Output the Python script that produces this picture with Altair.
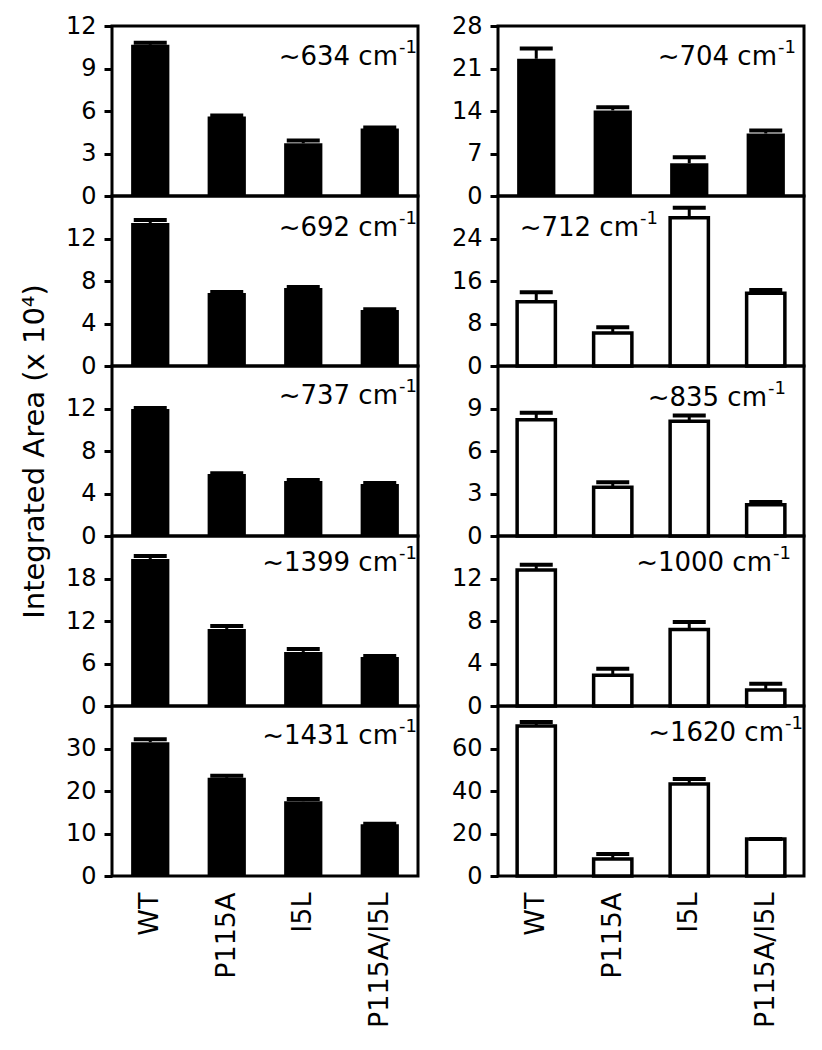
import altair as alt
import pandas as pd

samples = ["WT", "P115A", "I5L", "P115A/I5L"]

# left column (black bars)
v634 = [10.67, 5.61, 3.72, 4.77]
e634 = [0.14, 0.08, 0.2, 0.06]
v692 = [13.46, 6.87, 7.34, 5.27]
e692 = [0.28, 0.1, 0.1, 0.06]
v737 = [11.95, 5.83, 5.18, 4.9]
e737 = [0.1, 0.08, 0.08, 0.08]
v1399 = [20.76, 10.88, 7.63, 6.92]
e1399 = [0.4, 0.4, 0.4, 0.15]
v1431 = [31.5, 23.1, 17.6, 12.2]
e1431 = [0.7, 0.5, 0.5, 0.1]

# right column
v704 = [22.6, 14.1, 5.4, 10.3]
e704 = [1.7, 0.5, 1.0, 0.5]
v712 = [12.1, 6.2, 27.9, 13.7]
e712 = [1.8, 1.1, 1.9, 0.6]
v835 = [8.2, 3.45, 8.1, 2.2]
e835 = [0.5, 0.35, 0.4, 0.2]
v1000 = [12.8, 2.9, 7.2, 1.5]
e1000 = [0.5, 0.6, 0.7, 0.6]
v1620 = [70.6, 8.0, 43.3, 17.4]
e1620 = [1.9, 2.4, 2.3, 0.0]

FONT = "DejaVu Sans"
W = 306
H = 170


def panel(vals, errs, dmax, ticks, wn, fill, ann_end, ann_base, bottom=False, title=None):
    df = pd.DataFrame({
        "sample": samples,
        "value": vals,
        "top": [v + e for v, e in zip(vals, errs)],
    })
    if bottom:
        xaxis = alt.Axis(title=None, labelAngle=-90, labelAlign="right", labelBaseline="middle",
                         ticks=False, domain=False, labelPadding=16, labelFontSize=27)
    else:
        xaxis = None
    x = alt.X("sample:N", sort=samples,
              scale=alt.Scale(paddingInner=0.5, paddingOuter=0.25), axis=xaxis)
    ykw = dict(values=ticks)
    if title:
        ykw["title"] = title
        ykw["titlePadding"] = 16
    else:
        ykw["title"] = None
    yscale = alt.Scale(domain=[0, dmax], nice=False, zero=True)
    base = alt.Chart(df)
    if fill == "white":
        bars = base.mark_bar(fill="white", stroke="black", strokeWidth=3.5, opacity=1)
    else:
        bars = base.mark_bar(fill="black", strokeWidth=0, opacity=1)
    bars = bars.encode(x=x, y=alt.Y("value:Q", scale=yscale, axis=alt.Axis(**ykw)))
    stem = base.mark_rule(color="black", strokeWidth=3, opacity=1).encode(
        x=x, y=alt.Y("value:Q"), y2="top:Q")
    cap = base.mark_tick(color="black", size=33, thickness=4, opacity=1).encode(
        x=x, y=alt.Y("top:Q"))
    tdf = pd.DataFrame({"t": ["~" + wn + " cm"], "s": ["-1"]})
    main = alt.Chart(tdf).mark_text(align="right", baseline="alphabetic", font=FONT,
                                    fontSize=26, color="black").encode(
        text="t:N", x=alt.value(ann_end), y=alt.value(ann_base))
    sup = alt.Chart(tdf).mark_text(align="left", baseline="alphabetic", font=FONT,
                                   fontSize=18, color="black").encode(
        text="s:N", x=alt.value(ann_end + 1), y=alt.value(ann_base - 12))
    return alt.layer(bars, stem, cap, main, sup).properties(width=W, height=H)


charts = [
    panel(v634, e634, 12, [0, 3, 6, 9, 12], "634", "black", W - 20, 39),
    panel(v704, e704, 28, [0, 7, 14, 21, 28], "704", "black", W - 27, 39),
    panel(v692, e692, 16, [0, 4, 8, 12], "692", "black", W - 20, 40),
    panel(v712, e712, 32, [0, 8, 16, 24], "712", "white", 141, 40),
    panel(v737, e737, 16, [0, 4, 8, 12], "737", "black", W - 20, 38,
          title="Integrated Area (x 10⁴)"),
    panel(v835, e835, 12, [0, 3, 6, 9], "835", "white", W - 37, 40),
    panel(v1399, e1399, 24, [0, 6, 12, 18], "1399", "black", W - 20, 35),
    panel(v1000, e1000, 16, [0, 4, 8, 12], "1000", "white", W - 32, 35),
    panel(v1431, e1431, 40, [0, 10, 20, 30], "1431", "black", W - 20, 38, bottom=True),
    panel(v1620, e1620, 80, [0, 20, 40, 60], "1620", "white", W - 20, 35, bottom=True),
]

chart = alt.concat(*charts, columns=2, spacing=alt.RowColnumber(row=0, column=80),
                   bounds="flush").properties(
    padding={"left": 10, "top": 4, "right": 5, "bottom": 5}
).configure_view(
    stroke="black", strokeWidth=3
).configure_axis(
    labelFont=FONT, labelFontSize=24, labelColor="black",
    tickColor="black", tickWidth=3, tickSize=8, labelPadding=8,
    domain=False, grid=False,
    titleFont=FONT, titleFontSize=29, titleFontWeight="normal", titleColor="black"
)

chart.save("out.html", embed_options={"renderer": "svg", "actions": False})
